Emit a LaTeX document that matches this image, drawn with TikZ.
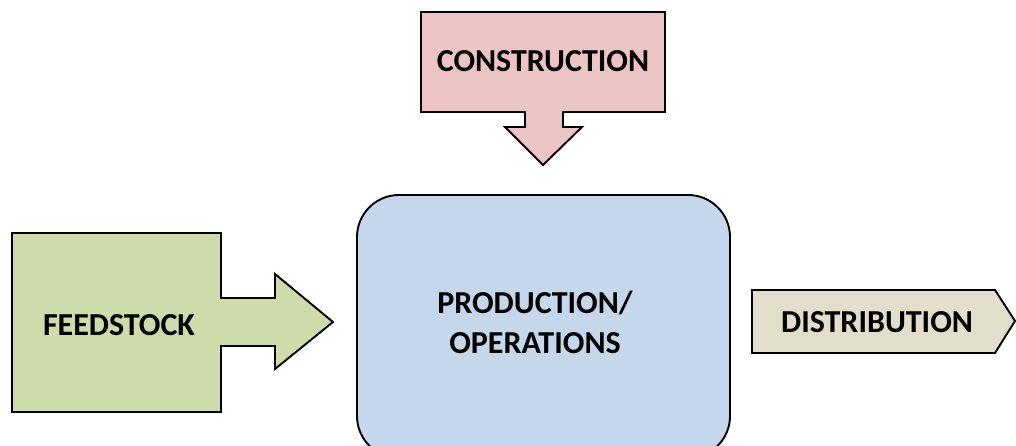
\documentclass[tikz,border=0pt]{standalone}
\usepackage{fontspec}
\setmainfont{Carlito}
\definecolor{pinkF}{HTML}{ECC4C4}
\definecolor{greenF}{HTML}{CEDCAB}
\definecolor{blueF}{HTML}{C5D7EA}
\definecolor{beigeF}{HTML}{E1DECB}
\begin{document}
\begin{tikzpicture}[x=1pt,y=-1pt,
  shapebox/.style={draw=black, line width=1.9pt, line join=miter},
  lbl/.style={font=\bfseries\fontsize{32}{40}\selectfont, align=center, inner sep=0pt}]
\useasboundingbox (0,0) rectangle (1016,446);
\begin{scope}
  \clip (0,0) rectangle (1016,446);
  \filldraw[shapebox, fill=blueF, rounded corners=42pt] (357,195) rectangle (730,458);
\end{scope}
% construction
\filldraw[shapebox, fill=pinkF] (421,12) -- (665,12) -- (665,112) -- (563,112) -- (563,127) -- (582,127) -- (543,165) -- (505,127) -- (525,127) -- (525,112) -- (421,112) -- cycle;
% feedstock
\filldraw[shapebox, fill=greenF] (12,233) -- (221,233) -- (221,298) -- (275,298) -- (275,274) -- (333,322) -- (275,369) -- (275,346) -- (221,346) -- (221,412) -- (12,412) -- cycle;
% distribution
\filldraw[shapebox, fill=beigeF] (752,290) -- (995,290) -- (1015,321) -- (995,353) -- (752,353) -- cycle;
\node[lbl] (construction) at (543,61) {CONSTRUCTION};
\node[lbl] (feedstock) at (119,325) {FEEDSTOCK};
\node[lbl] (production) at (535,322) {PRODUCTION/\\OPERATIONS};
\node[lbl] (distribution) at (877,322) {DISTRIBUTION};
\end{tikzpicture}
\end{document}
